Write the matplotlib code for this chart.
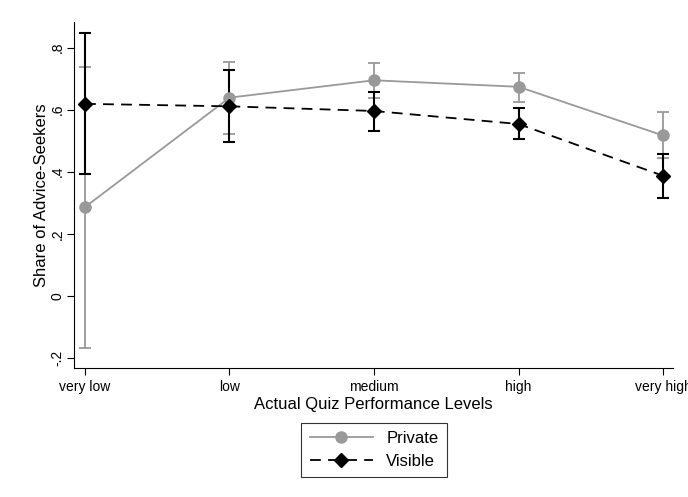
import matplotlib
matplotlib.use("Agg")
import matplotlib.pyplot as plt
import numpy as np

plt.rcParams['font.family'] = ['Liberation Sans', 'DejaVu Sans']

categories = ["very low", "low", "medium", "high", "very high"]
private = [0.286, 0.639, 0.695, 0.674, 0.517]
private_lo = [-0.168, 0.521, 0.637, 0.626, 0.443]
private_hi = [0.738, 0.755, 0.751, 0.719, 0.593]
visible = [0.619, 0.611, 0.596, 0.554, 0.387]
visible_lo = [0.392, 0.497, 0.532, 0.505, 0.316]
visible_hi = [0.846, 0.727, 0.656, 0.605, 0.458]

fig = plt.figure(figsize=(6.88, 4.97), dpi=100)
ax = fig.add_axes([74/688, 1-368/497, (673-74)/688, (368-22)/497])

x = np.arange(len(categories))
gray = '#999999'

p = np.array(private); v = np.array(visible)
ax.errorbar(x, p, yerr=[p-np.array(private_lo), np.array(private_hi)-p],
            fmt='none', ecolor=gray, elinewidth=1.3, capsize=4.5, capthick=1.3, zorder=2)
ax.errorbar(x, v, yerr=[v-np.array(visible_lo), np.array(visible_hi)-v],
            fmt='none', ecolor='black', elinewidth=1.5, capsize=4.5, capthick=1.5, zorder=3)
lp, = ax.plot(x, p, color=gray, lw=1.3, marker='o', ms=8, mec=gray, mfc=gray, zorder=4, label='Private')
lv, = ax.plot(x, v, color='black', lw=1.3, ls=(0, (6, 4)), marker='D', ms=7.5, mec='black', mfc='black', zorder=5, label='Visible')

ax.set_xlim(-0.076, 4.069)
ax.set_ylim(-0.233, 0.883)
ax.set_xticks(x)
ax.set_xticklabels(categories, fontsize=10)
yt = [-0.2, 0, 0.2, 0.4, 0.6, 0.8]
ax.set_yticks(yt)
ax.set_yticklabels(['-.2', '0', '.2', '.4', '.6', '.8'], rotation=90, va='center', fontsize=10)
for s in ['top', 'right']:
    ax.spines[s].set_visible(False)
ax.tick_params(axis='y', direction='out', length=5, width=0.8, pad=2)
ax.tick_params(axis='x', direction='out', length=5, width=0.8)
ax.set_xlabel('Actual Quiz Performance Levels', fontsize=12, labelpad=2)
ax.set_ylabel('Share of Advice-Seekers', fontsize=12, labelpad=1)

leg = fig.legend(handles=[lp, lv], loc='center', bbox_to_anchor=(374/688, 1-450/497),
                 fontsize=12, frameon=True, fancybox=False, edgecolor='black',
                 handlelength=3.8, borderpad=0.5, labelspacing=0.45, handletextpad=0.8)
leg.get_frame().set_linewidth(0.8)

fig.savefig('out.png', dpi=100)
